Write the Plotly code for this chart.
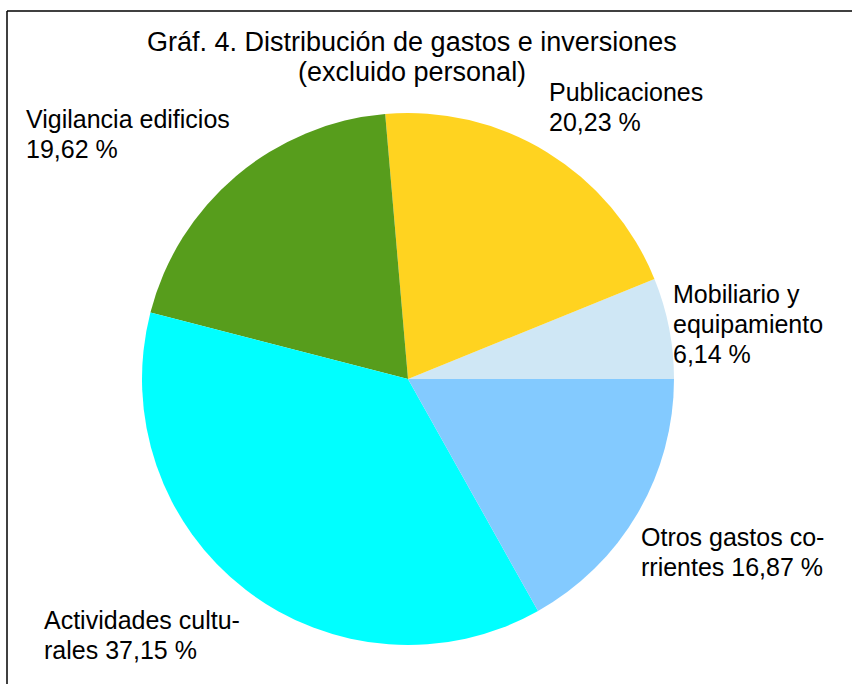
import plotly.graph_objects as go

# data
categories = ["Mobiliario y equipamiento", "Publicaciones", "Vigilancia edificios",
              "Actividades culturales", "Otros gastos corrientes"]
shares = [6.14, 20.23, 19.62, 37.15, 16.87]
# how the label text wraps in the chart (value is appended to the last line)
label_lines = [["Mobiliario y", "equipamiento", ""],
               ["Publicaciones", ""],
               ["Vigilancia edificios", ""],
               ["Actividades cultu-", "rales "],
               ["Otros gastos co-", "rrientes "]]
title_lines = ["Gráf. 4. Distribución de gastos e inversiones", "(excluido personal)"]
colors = ["#cfe7f5", "#ffd320", "#579d1c", "#00ffff", "#83caff"]

W, H = 852, 684
FONT = "Liberation Sans, Arial, sans-serif"
LINE_GAP = 30

# pie centre / radius in pixels
cx, cy, r = 408, 379, 266


def px(x):
        return x / W


def py(y):
        return 1 - y / H


# plotly lays the first slice out behind the start angle when going counterclockwise
start_rot = 90 - shares[0] / sum(shares) * 360

fig = go.Figure(go.Pie(
    labels=categories,
    values=shares,
    sort=False,
    direction="counterclockwise",
    rotation=start_rot,
    marker=dict(colors=colors, line=dict(width=0)),
    textinfo="none",
    hoverinfo="label+percent",
    showlegend=False,
    domain=dict(x=[px(cx - r), px(cx + r)], y=[py(cy + r), py(cy - r)]),
))

# left x and cap-top y of the first line of each label, pixels
label_pos = [(674, 285), (550, 83), (27, 110), (45, 611), (642, 528)]


def text_line(txt, x, cap_top, size, anchor="left"):
        if anchor == "left":
                x -= 3  # annotation box padding
        return dict(
            text=txt, x=px(x), y=py(cap_top - 0.27 * size), xref="paper", yref="paper",
            xanchor=anchor, yanchor="top", align=anchor,
            showarrow=False, font=dict(family=FONT, size=size, color="#000000"),
        )


annotations = []
for lines, val, (lx, ly) in zip(label_lines, shares, label_pos):
        lines = lines[:-1] + [lines[-1] + f"{val:.2f}".replace(".", ",") + " %"]
        for i, ln in enumerate(lines):
                annotations.append(text_line(ln, lx, ly + i * LINE_GAP, 25))

for i, ln in enumerate(title_lines):
        annotations.append(text_line(ln, 412, 32 + i * LINE_GAP, 27, anchor="center"))

fig.update_layout(
    width=W, height=H,
    margin=dict(l=0, r=0, t=0, b=0),
    paper_bgcolor="white",
    plot_bgcolor="white",
    annotations=annotations,
    shapes=[
        dict(type="line", xref="paper", yref="paper", x0=px(7), x1=px(W + 5), y0=py(11), y1=py(11),
             line=dict(color="black", width=1.5)),
        dict(type="line", xref="paper", yref="paper", x0=px(7), x1=px(7), y0=py(11), y1=py(H + 5),
             line=dict(color="black", width=1.5)),
    ],
)

fig.write_html("out.html", config={"displayModeBar": False},
               post_script="document.body.style.margin = '0';")
